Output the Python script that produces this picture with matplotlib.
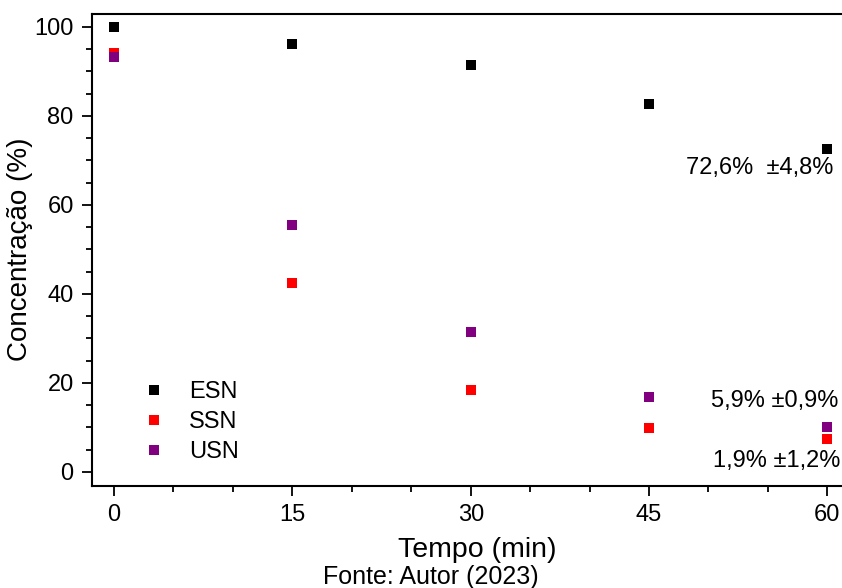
import matplotlib
matplotlib.use("Agg")
import matplotlib.pyplot as plt
from matplotlib.ticker import MultipleLocator

plt.rcParams['font.family'] = ['Liberation Sans', 'DejaVu Sans']

# Tempo de reação (min)
tempo = [0, 15, 30, 45, 60]

# Concentração relativa (%)
esn = [100, 96.2, 91.5, 82.7, 72.6]
ssn = [94.2, 42.5, 18.4, 9.8, 7.3]
usn = [93.2, 55.5, 31.5, 16.8, 10.0]

series = [('ESN', esn, 'black'), ('SSN', ssn, '#ff0000'), ('USN', usn, '#800080')]

# rótulos de concentração final
rotulos = [(48.1, 68.3, '72,6%  ±4,8%'),
           (50.2, 16.0, '5,9% ±0,9%'),
           (50.4, 2.5, '1,9% ±1,2%')]

fig = plt.figure(figsize=(8.42, 5.88), dpi=100)
ax = fig.add_axes([0.1093, 0.174, 0.9157, 0.803])

for nome, valores, cor in series:
    ax.plot(tempo, valores, linestyle='none', marker='s', markersize=7.8,
            color=cor, markeredgewidth=0, label=nome)

for x, y, texto in rotulos:
    ax.text(x, y, texto, fontsize=17, va='center', ha='left')

ax.set_xlim(-1.85, 63)
ax.set_ylim(-3.1, 103)
ax.set_xticks(tempo)
ax.xaxis.set_minor_locator(MultipleLocator(5))
ax.yaxis.set_major_locator(MultipleLocator(20))
ax.yaxis.set_minor_locator(MultipleLocator(5))

ax.tick_params(which='major', direction='out', length=7.2, width=1.3, labelsize=17, pad=6)
ax.tick_params(which='minor', direction='out', length=4.3, width=1.3)
for lado in ax.spines.values():
    lado.set_linewidth(1.5)

ax.set_xlabel('Tempo (min)', fontsize=20.5, labelpad=8)
ax.set_ylabel('Concentração (%)', fontsize=20, labelpad=1)

leg = ax.legend(loc='lower left', bbox_to_anchor=(142 / 842, 125 / 588),
                bbox_transform=fig.transFigure, frameon=False, fontsize=17,
                handlelength=1.0, handletextpad=1.0, labelspacing=0.33,
                borderpad=0, borderaxespad=0)

fig.text(0.512, 0.018, 'Fonte: Autor (2023)', fontsize=18, ha='center', va='center')

fig.savefig('out.png', dpi=100)
